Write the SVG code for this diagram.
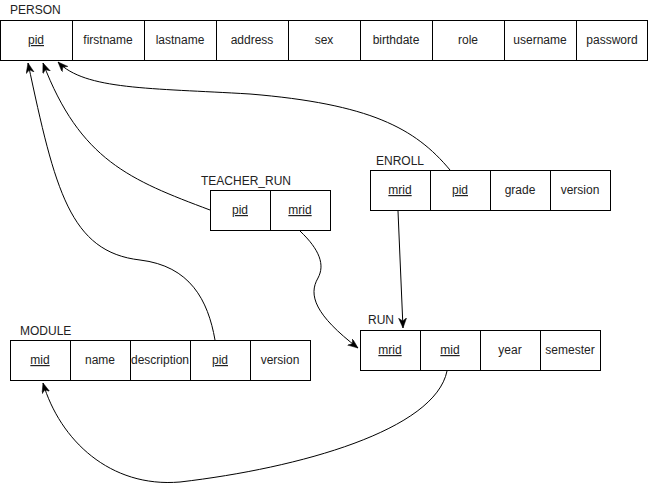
<svg xmlns="http://www.w3.org/2000/svg" width="649" height="485" viewBox="0 0 649 485">
<style>
.cell{fill:#fff;stroke:#000;stroke-width:1}
.t{font-family:"Liberation Sans",Arial,sans-serif;font-size:12px;fill:#222;text-anchor:middle}
.u{text-decoration:underline}
.lbl{font-family:"Liberation Sans",Arial,sans-serif;font-size:12px;fill:#222}
.edge{fill:none;stroke:#000;stroke-width:1;marker-end:url(#arr)}
</style>
<defs>
<marker id="arr" markerUnits="userSpaceOnUse" markerWidth="12" markerHeight="10" refX="10" refY="4" orient="auto">
<path d="M0,0 L10,4 L0,8 L3,4 z" fill="#000" stroke="#000" stroke-width="0.5"/>
</marker>
</defs>
<g id="connectors">
<path class="edge" d="M215,340 C208,300 190,266 140,260 C70,252 55,190 28,63"/>
<path class="edge" d="M210,210 C130,180 80,160 43,63"/>
<path class="edge" d="M450,170 C415,128 370,104 250,94 C150,88 85,90 58,62"/>
<path class="edge" d="M300,231 C320,250 325,265 318,278 C308,295 315,315 358,348"/>
<path class="edge" d="M398,211 L403,328"/>
<path class="edge" d="M447,371 C435,430 300,468 180,482 C110,488 60,440 43,383"/>
</g>
<g id="person">
<text class="lbl" x="10" y="14">PERSON</text>
<rect class="cell" x="0.5" y="20.5" width="72" height="40"/>
<rect class="cell" x="72.5" y="20.5" width="72" height="40"/>
<rect class="cell" x="144.5" y="20.5" width="72" height="40"/>
<rect class="cell" x="216.5" y="20.5" width="72" height="40"/>
<rect class="cell" x="288.5" y="20.5" width="72" height="40"/>
<rect class="cell" x="360.5" y="20.5" width="72" height="40"/>
<rect class="cell" x="432.5" y="20.5" width="72" height="40"/>
<rect class="cell" x="504.5" y="20.5" width="72" height="40"/>
<rect class="cell" x="576.5" y="20.5" width="71" height="40"/>
<text class="t u" x="36" y="44">pid</text>
<text class="t" x="108" y="44">firstname</text>
<text class="t" x="180" y="44">lastname</text>
<text class="t" x="252" y="44">address</text>
<text class="t" x="324" y="44">sex</text>
<text class="t" x="396" y="44">birthdate</text>
<text class="t" x="468" y="44">role</text>
<text class="t" x="540" y="44">username</text>
<text class="t" x="612" y="44">password</text>
</g>
<g id="teacher_run">
<text class="lbl" x="201" y="185">TEACHER_RUN</text>
<rect class="cell" x="210.5" y="190.5" width="60" height="40"/>
<rect class="cell" x="270.5" y="190.5" width="60" height="40"/>
<text class="t u" x="240" y="214">pid</text>
<text class="t u" x="300" y="214">mrid</text>
</g>
<g id="enroll">
<text class="lbl" x="376" y="165">ENROLL</text>
<rect class="cell" x="370.5" y="170.5" width="60" height="40"/>
<rect class="cell" x="430.5" y="170.5" width="60" height="40"/>
<rect class="cell" x="490.5" y="170.5" width="60" height="40"/>
<rect class="cell" x="550.5" y="170.5" width="60" height="40"/>
<text class="t u" x="400" y="194">mrid</text>
<text class="t u" x="460" y="194">pid</text>
<text class="t" x="520" y="194">grade</text>
<text class="t" x="580" y="194">version</text>
</g>
<g id="module">
<text class="lbl" x="20" y="335">MODULE</text>
<rect class="cell" x="10.5" y="340.5" width="60" height="40"/>
<rect class="cell" x="70.5" y="340.5" width="60" height="40"/>
<rect class="cell" x="130.5" y="340.5" width="60" height="40"/>
<rect class="cell" x="190.5" y="340.5" width="60" height="40"/>
<rect class="cell" x="250.5" y="340.5" width="60" height="40"/>
<text class="t u" x="40" y="364">mid</text>
<text class="t" x="100" y="364">name</text>
<text class="t" x="160" y="364">description</text>
<text class="t u" x="220" y="364">pid</text>
<text class="t" x="280" y="364">version</text>
</g>
<g id="run">
<text class="lbl" x="368" y="324">RUN</text>
<rect class="cell" x="360.5" y="330.5" width="60" height="40"/>
<rect class="cell" x="420.5" y="330.5" width="60" height="40"/>
<rect class="cell" x="480.5" y="330.5" width="60" height="40"/>
<rect class="cell" x="540.5" y="330.5" width="60" height="40"/>
<text class="t u" x="390" y="354">mrid</text>
<text class="t u" x="450" y="354">mid</text>
<text class="t" x="510" y="354">year</text>
<text class="t" x="570" y="354">semester</text>
</g>
</svg>
